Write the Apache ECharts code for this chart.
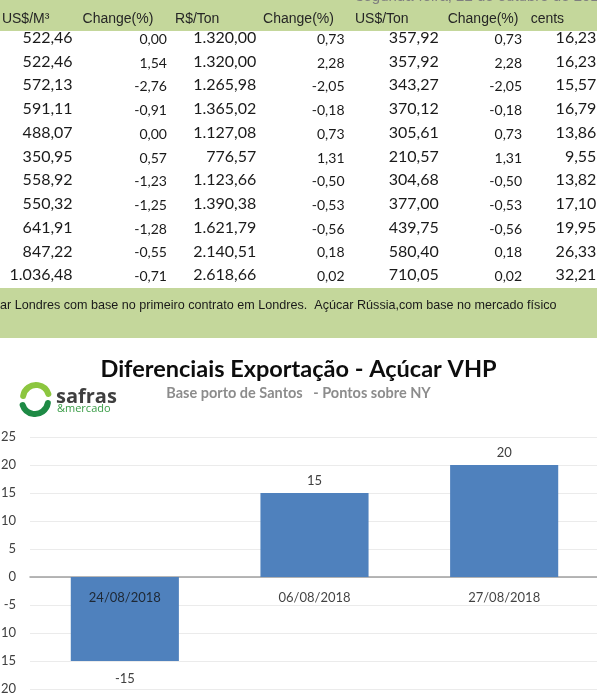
<!DOCTYPE html>
<html>
<head>
<meta charset="utf-8">
<script src="https://cdn.jsdelivr.net/npm/echarts@6/dist/echarts.min.js"></script>
<style>
  html, body { margin: 0; padding: 0; background: #fff; }
  #main { width: 597px; height: 695px; }
</style>
</head>
<body>
<div id="main"></div>
<script>
// table columns (Açúcar)
const headers = ['US$/M³', 'Change(%)', 'R$/Ton', 'Change(%)', 'US$/Ton', 'Change(%)', 'cents'];
const usdM3 = [522.46, 522.46, 572.13, 591.11, 488.07, 350.95, 558.92, 550.32, 641.91, 847.22, 1036.48];
const chgM3 = [0.00, 1.54, -2.76, -0.91, 0.00, 0.57, -1.23, -1.25, -1.28, -0.55, -0.71];
const brlTon = [1320.00, 1320.00, 1265.98, 1365.02, 1127.08, 776.57, 1123.66, 1390.38, 1621.79, 2140.51, 2618.66];
const chgBrl = [0.73, 2.28, -2.05, -0.18, 0.73, 1.31, -0.50, -0.53, -0.56, 0.18, 0.02];
const usdTon = [357.92, 357.92, 343.27, 370.12, 305.61, 210.57, 304.68, 377.00, 439.75, 580.40, 710.05];
const chgUsd = [0.73, 2.28, -2.05, -0.18, 0.73, 1.31, -0.50, -0.53, -0.56, 0.18, 0.02];
const cents = [16.23, 16.23, 15.57, 16.79, 13.86, 9.55, 13.82, 17.10, 19.95, 26.33, 32.21];
const tableCols = [usdM3, chgM3, brlTon, chgBrl, usdTon, chgUsd, cents];
const rowIds = usdM3.map((v, i) => String(i));

// chart: diferenciais exportação
const dates = ['24/08/2018', '06/08/2018', '27/08/2018'];
const diffs = [-15, 15, 20];

const footnote = 'Açúcar Londres com base no primeiro contrato em Londres.  Açúcar Rússia,com base no mercado físico';
const dateText = 'segunda-feira, 22 de outubro de 2018';

// layout tweaks for the spreadsheet look
const cellShift = [30, 39, 43, 46, 55, 53, 42];
const headerShift = [-17, -10, -16, 0, -2, 14, -7];
const GREEN = '#c4d79b';
const BLUE = '#4f81bd';

function fmt(v) {
  const neg = v < 0;
  const parts = Math.abs(v).toFixed(2).split('.');
  return (neg ? '-' : '') + parts[0].replace(/\B(?=(\d{3})+(?!\d))/g, '.') + ',' + parts[1];
}

const cells = [];
tableCols.forEach((col, c) => {
  col.forEach((v, r) => cells.push([c, r, fmt(v)]));
});

const chartDom = document.getElementById('main');
const myChart = echarts.init(chartDom);

const option = {
  animation: false,
  title: {
    text: 'Diferenciais Exportação - Açúcar VHP',
    subtext: 'Base porto de Santos   - Pontos sobre NY',
    left: 'center',
    top: 352,
    itemGap: 5,
    textStyle: { fontFamily: 'Lato', fontWeight: 'bold', fontSize: 23.5, color: '#0d0d0d' },
    subtextStyle: { fontFamily: 'Lato', fontWeight: 'bold', fontSize: 14.5, color: '#8c8c8c' }
  },
  graphic: [
    { type: 'rect', z: -1, shape: { x: 0, y: 0, width: 597, height: 31 }, style: { fill: GREEN } },
    { type: 'rect', z: -1, shape: { x: 0, y: 288, width: 597, height: 50 }, style: { fill: GREEN } },
    {
      type: 'text', x: 356, y: -3,
      style: { text: dateText, font: '15px "Liberation Sans"', fill: '#7f7f7f', verticalAlign: 'middle' }
    },
    {
      type: 'text', x: -28, y: 306,
      style: { text: footnote, font: '12.6px "Liberation Sans"', fill: '#1a1a1a', verticalAlign: 'middle' }
    },
    // safras & mercado logo
    {
      type: 'arc',
      shape: { cx: 36, cy: 398, r: 13, startAngle: Math.PI * 1.05, endAngle: Math.PI * 1.9 },
      style: { stroke: '#8cc63f', lineWidth: 6, fill: null, lineCap: 'round' }
    },
    {
      type: 'arc',
      shape: { cx: 35, cy: 401, r: 13, startAngle: Math.PI * 0.05, endAngle: Math.PI * 0.9 },
      style: { stroke: '#1e8a45', lineWidth: 6, fill: null, lineCap: 'round' }
    },
    {
      type: 'text', x: 56, y: 397,
      style: { text: 'safras', font: 'bold 20px "Open Sans"', fill: '#3f3f3f', verticalAlign: 'middle' }
    },
    {
      type: 'text', x: 57, y: 409,
      style: { text: '&mercado', font: '11px "Open Sans"', fill: '#3a9d47', verticalAlign: 'middle' }
    }
  ],
  grid: [
    { left: 0, right: 0, top: 26, height: 261, outerBoundsMode: 'none' },
    { left: 30, right: -2, top: 437, bottom: 6, outerBoundsMode: 'none' }
  ],
  xAxis: [
    {
      type: 'category',
      gridIndex: 0,
      position: 'top',
      data: headers.map((h, i) => ({
        value: h,
        textStyle: { padding: headerShift[i] < 0 ? [0, -2 * headerShift[i], 0, 0] : [0, 0, 0, 2 * headerShift[i]] }
      })),
      axisLine: { show: false },
      axisTick: { show: false },
      axisLabel: { interval: 0, margin: 0, color: '#262626', fontSize: 14, fontFamily: 'Liberation Sans' },
      splitLine: { show: false }
    },
    {
      type: 'category',
      gridIndex: 1,
      data: dates,
      axisLine: { onZero: true, lineStyle: { color: '#a0a0a0', width: 1.5 } },
      axisTick: { show: false },
      axisLabel: { show: false },
      splitLine: { show: false }
    }
  ],
  yAxis: [
    { type: 'category', gridIndex: 0, inverse: true, data: rowIds, show: false },
    {
      type: 'value',
      gridIndex: 1,
      min: -20,
      max: 25,
      interval: 5,
      axisLine: { show: false },
      axisTick: { show: false },
      axisLabel: { margin: 14, color: '#404040', fontSize: 13, fontFamily: 'Lato' },
      splitLine: { lineStyle: { color: '#ebebeb', width: 1 } }
    }
  ],
  series: [
    {
      type: 'custom',
      xAxisIndex: 0,
      yAxisIndex: 0,
      data: cells.map(d => [d[0], d[1]]),
      renderItem: function (params, api) {
        const c = api.value(0);
        const p = api.coord([c, api.value(1)]);
        const big = c % 2 === 0;
        return {
          type: 'text',
          x: p[0] + cellShift[c],
          y: p[1] + (big ? 0 : 1.5),
          style: {
            text: cells[params.dataIndex][2],
            align: 'right',
            verticalAlign: 'middle',
            font: big ? '16px Lato' : '14px Lato',
            fill: '#1a1a1a'
          }
        };
      }
    },
    {
      type: 'bar',
      xAxisIndex: 1,
      yAxisIndex: 1,
      barWidth: '57%',
      itemStyle: { color: BLUE },
      label: { show: true, color: '#404040', fontSize: 13, fontFamily: 'Lato' },
      data: diffs.map(v => ({
        value: v,
        label: { position: v < 0 ? 'bottom' : 'top', distance: v < 0 ? 11 : 6 }
      }))
    },
    {
      // category names sitting just under the zero line
      type: 'scatter',
      xAxisIndex: 1,
      yAxisIndex: 1,
      symbolSize: 0,
      z: 5,
      silent: true,
      label: {
        show: true,
        position: 'bottom',
        distance: 14,
        formatter: '{b}',
        color: '#111',
        fontSize: 13,
        fontFamily: 'Lato'
      },
      data: dates.map(d => [d, 0])
    }
  ]
};

myChart.setOption(option);
</script>
</body>
</html>
